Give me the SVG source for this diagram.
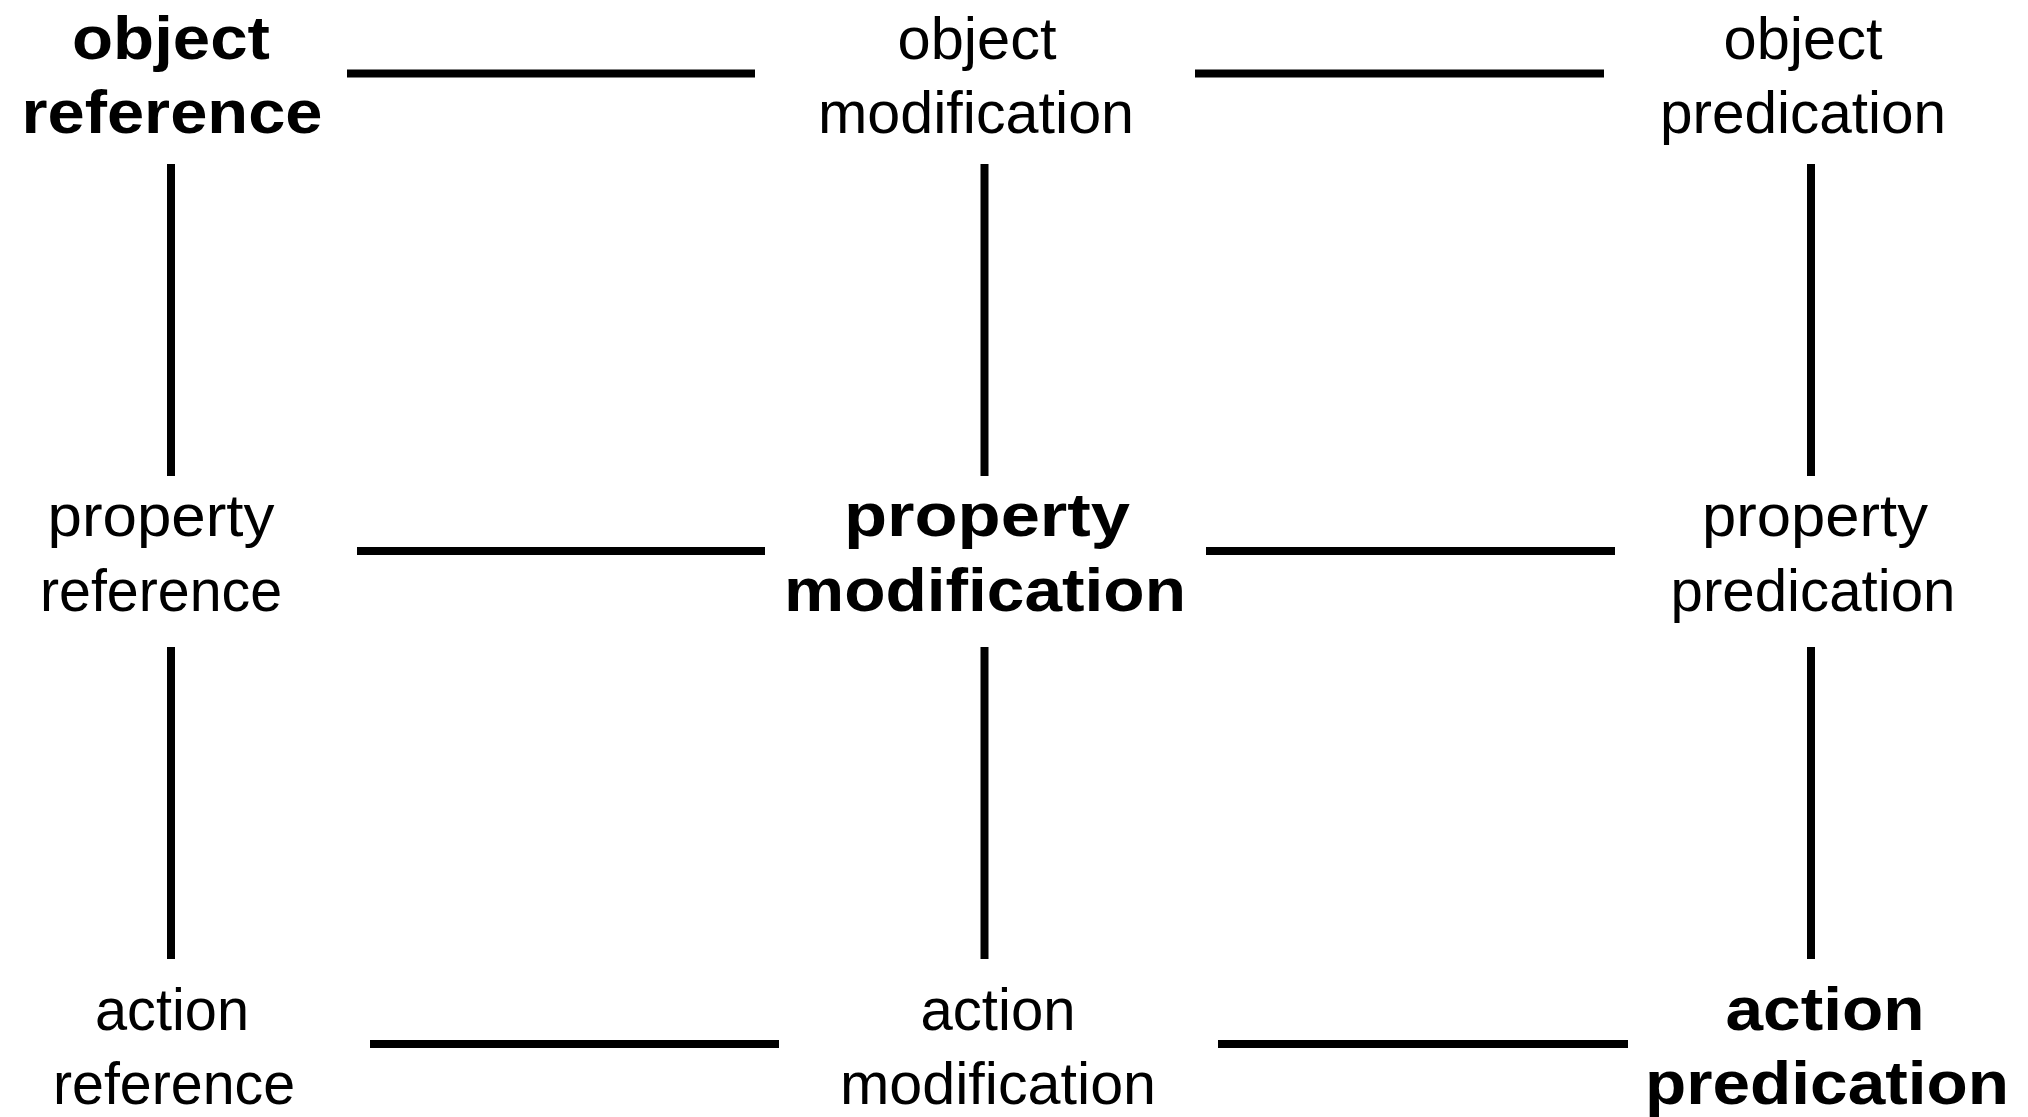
<svg xmlns="http://www.w3.org/2000/svg" width="2028" height="1117" viewBox="0 0 2028 1117">
  <style>
    text { font-family: "Liberation Sans", Arial, sans-serif; fill: #000; text-anchor: middle; }
    .reg { font-size: 60px; font-weight: normal; }
    .bold { font-size: 62px; font-weight: bold; }
    .link { stroke: #000; stroke-width: 8; fill: none; }
  </style>
  <rect width="2028" height="1117" fill="#fff"/>

  <!-- connectors -->
  <g id="connectors">
    <!-- horizontal links -->
    <line class="link" x1="347" y1="73.5" x2="755" y2="73.5"/>
    <line class="link" x1="1195" y1="73.5" x2="1604" y2="73.5"/>
    <line class="link" x1="357" y1="551" x2="765" y2="551"/>
    <line class="link" x1="1206" y1="551" x2="1615" y2="551"/>
    <line class="link" x1="370" y1="1044" x2="779" y2="1044"/>
    <line class="link" x1="1218" y1="1044" x2="1628" y2="1044"/>
    <!-- vertical links -->
    <line class="link" x1="171" y1="164" x2="171" y2="476"/>
    <line class="link" x1="984.5" y1="164" x2="984.5" y2="476"/>
    <line class="link" x1="1811" y1="164" x2="1811" y2="476"/>
    <line class="link" x1="171" y1="647" x2="171" y2="959"/>
    <line class="link" x1="984.5" y1="647" x2="984.5" y2="959"/>
    <line class="link" x1="1811" y1="647" x2="1811" y2="959"/>
  </g>

  <!-- row 1 -->
  <g id="object-reference">
    <text class="bold" x="171" y="59" textLength="198" lengthAdjust="spacingAndGlyphs">object</text>
    <text class="bold" x="172" y="133" textLength="301" lengthAdjust="spacingAndGlyphs">reference</text>
  </g>
  <g id="object-modification">
    <text class="reg" x="977" y="59" textLength="159" lengthAdjust="spacingAndGlyphs">object</text>
    <text class="reg" x="976" y="133" textLength="316" lengthAdjust="spacingAndGlyphs">modification</text>
  </g>
  <g id="object-predication">
    <text class="reg" x="1803" y="59" textLength="159" lengthAdjust="spacingAndGlyphs">object</text>
    <text class="reg" x="1803" y="133" textLength="286" lengthAdjust="spacingAndGlyphs">predication</text>
  </g>

  <!-- row 2 -->
  <g id="property-reference">
    <text class="reg" x="161" y="536" textLength="227" lengthAdjust="spacingAndGlyphs">property</text>
    <text class="reg" x="161" y="611" textLength="242" lengthAdjust="spacingAndGlyphs">reference</text>
  </g>
  <g id="property-modification">
    <text class="bold" x="987" y="536" textLength="286" lengthAdjust="spacingAndGlyphs">property</text>
    <text class="bold" x="985" y="611" textLength="402" lengthAdjust="spacingAndGlyphs">modification</text>
  </g>
  <g id="property-predication">
    <text class="reg" x="1815" y="536" textLength="226" lengthAdjust="spacingAndGlyphs">property</text>
    <text class="reg" x="1813" y="611" textLength="285" lengthAdjust="spacingAndGlyphs">predication</text>
  </g>

  <!-- row 3 -->
  <g id="action-reference">
    <text class="reg" x="172" y="1030" textLength="154" lengthAdjust="spacingAndGlyphs">action</text>
    <text class="reg" x="174" y="1104" textLength="242" lengthAdjust="spacingAndGlyphs">reference</text>
  </g>
  <g id="action-modification">
    <text class="reg" x="998" y="1030" textLength="155" lengthAdjust="spacingAndGlyphs">action</text>
    <text class="reg" x="998" y="1104" textLength="316" lengthAdjust="spacingAndGlyphs">modification</text>
  </g>
  <g id="action-predication">
    <text class="bold" x="1825" y="1030" textLength="199" lengthAdjust="spacingAndGlyphs">action</text>
    <text class="bold" x="1827" y="1104" textLength="364" lengthAdjust="spacingAndGlyphs">predication</text>
  </g>
</svg>
